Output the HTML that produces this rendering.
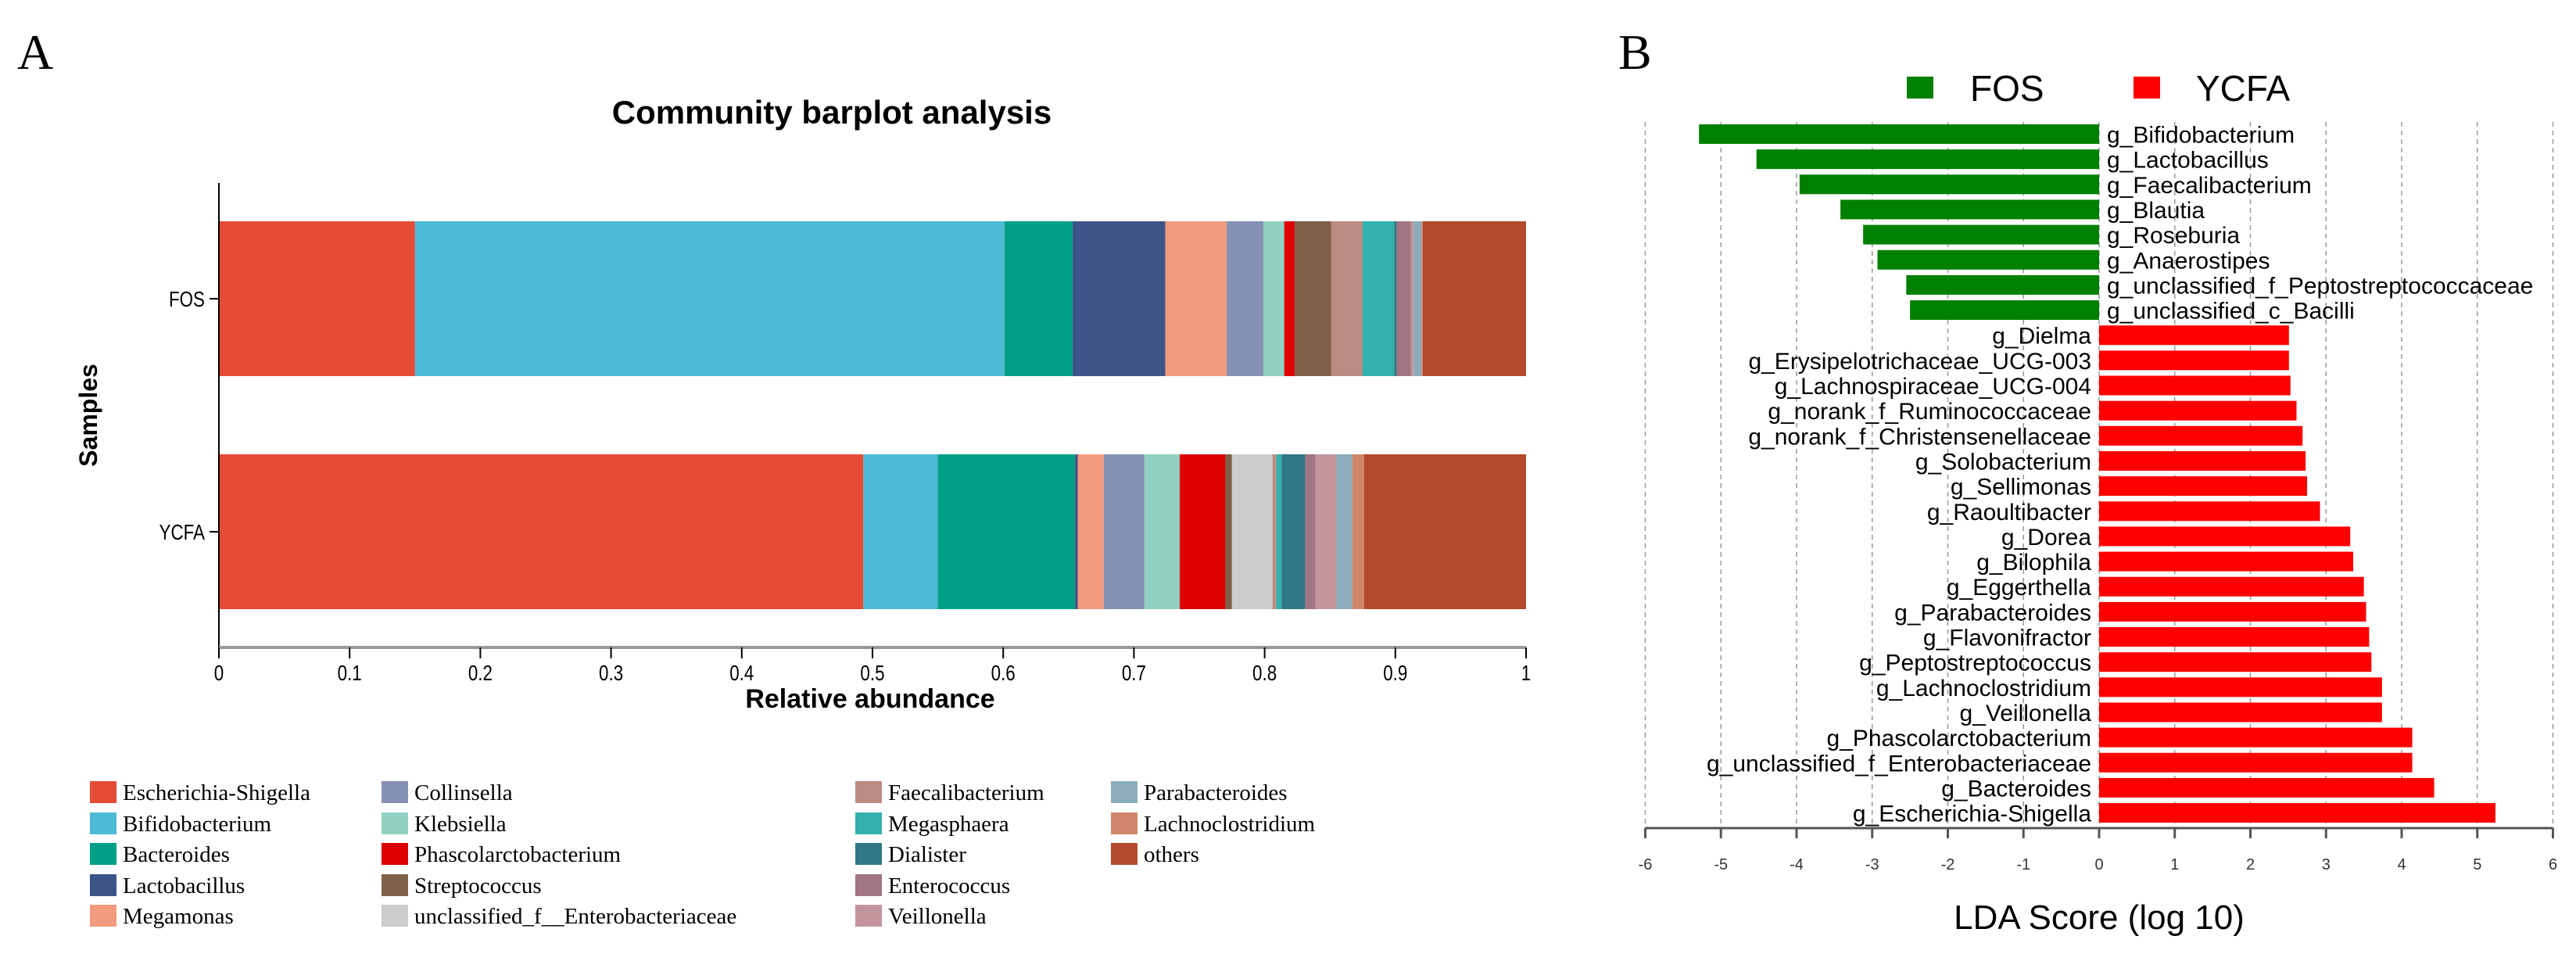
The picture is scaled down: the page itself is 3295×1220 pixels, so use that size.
<!DOCTYPE html>
<html><head><meta charset="utf-8"><style>
html,body{margin:0;padding:0;background:#fff;}
svg{display:block;}
text{font-family:"Liberation Sans",sans-serif;}
.serif{font-family:"Liberation Serif",serif;}
</style></head><body>
<svg id="fig" width="3295" height="1220" viewBox="0 0 3295 1220" xmlns="http://www.w3.org/2000/svg">
<text class="serif" x="22" y="88" font-size="64">A</text>
<text x="1064" y="158" font-size="42" font-weight="bold" text-anchor="middle">Community barplot analysis</text>
<g id="pa"></g>
<g id="pl"></g>
<text class="serif" x="2070" y="88" font-size="64">B</text>
<g id="pb"></g>
</svg>
<script>
const NS="http://www.w3.org/2000/svg";
// ---------- Panel A data ----------
const taxa=["Escherichia-Shigella","Bifidobacterium","Bacteroides","Lactobacillus","Megamonas","Collinsella","Klebsiella","Phascolarctobacterium","Streptococcus","unclassified_f__Enterobacteriaceae","Faecalibacterium","Megasphaera","Dialister","Enterococcus","Veillonella","Parabacteroides","Lachnoclostridium","others"];
const taxaColors=["#E64B35","#4DBBD5","#00A087","#3C5488","#F39B7F","#8491B4","#91D1C2","#DC0000","#7E6148","#CCCCCC","#BC8B83","#32B1AE","#317887","#A17581","#C4959D","#8CADBB","#D0866A","#B24A2B"];
const samples=["FOS","YCFA"];
const fosValues=[0.150,0.451,0.052,0.071,0.047,0.028,0.016,0.008,0.028,0.000,0.024,0.024,0.002,0.011,0.002,0.006,0.001,0.079];
const ycfaValues=[0.493,0.057,0.105,0.002,0.020,0.031,0.027,0.035,0.005,0.031,0.003,0.004,0.018,0.008,0.016,0.012,0.009,0.124];
const xTicksA=[0,0.1,0.2,0.3,0.4,0.5,0.6,0.7,0.8,0.9,1];
// ---------- Panel B data ----------
const ldaGenera=["g_Bifidobacterium","g_Lactobacillus","g_Faecalibacterium","g_Blautia","g_Roseburia","g_Anaerostipes","g_unclassified_f_Peptostreptococcaceae","g_unclassified_c_Bacilli","g_Dielma","g_Erysipelotrichaceae_UCG-003","g_Lachnospiraceae_UCG-004","g_norank_f_Ruminococcaceae","g_norank_f_Christensenellaceae","g_Solobacterium","g_Sellimonas","g_Raoultibacter","g_Dorea","g_Bilophila","g_Eggerthella","g_Parabacteroides","g_Flavonifractor","g_Peptostreptococcus","g_Lachnoclostridium","g_Veillonella","g_Phascolarctobacterium","g_unclassified_f_Enterobacteriaceae","g_Bacteroides","g_Escherichia-Shigella"];
const ldaScores=[-5.29,-4.53,-3.96,-3.42,-3.12,-2.93,-2.55,-2.50,2.51,2.51,2.53,2.61,2.69,2.73,2.75,2.92,3.32,3.36,3.50,3.53,3.57,3.60,3.74,3.74,4.14,4.14,4.43,5.24];
const ldaTicks=[-6,-5,-4,-3,-2,-1,0,1,2,3,4,5,6];

function el(tag,attrs,parent,txt){const e=document.createElementNS(NS,tag);for(const k in attrs)e.setAttribute(k,attrs[k]);if(txt!==undefined)e.textContent=txt;parent.appendChild(e);return e;}

// ---- Panel A ----
const pa=document.getElementById('pa');
const ax0=280,ax1=1952;
const xA=v=>ax0+v*(ax1-ax0);
const rows=[{y:283,h:198,vals:fosValues,ly:382},{y:581,h:198,vals:ycfaValues,ly:680}];
rows.forEach((r,si)=>{
  let acc=0;
  r.vals.forEach((v,i)=>{
    const rc=el('rect',{x:xA(acc),y:r.y,width:Math.max(0,xA(acc+v)-xA(acc)),height:r.h,fill:taxaColors[i]},pa);
    
    
    acc+=v;
  });
  const t=el('text',{x:262,y:r.ly+10,'font-size':28,'text-anchor':'end',transform:`translate(262 0) scale(0.8 1) translate(-262 0)`},pa,samples[si]);
  
  
  el('line',{x1:268,x2:280,y1:r.ly,y2:r.ly,stroke:'#000','stroke-width':2},pa);
});
el('line',{x1:280,x2:280,y1:234,y2:828,stroke:'#000','stroke-width':2},pa);
el('line',{x1:ax0,x2:ax1,y1:828,y2:828,stroke:'#999','stroke-width':4},pa);
xTicksA.forEach(v=>{
  el('line',{x1:xA(v),x2:xA(v),y1:828,y2:842,stroke:'#000','stroke-width':2},pa);
  const t=el('text',{x:xA(v),y:870,'font-size':28,'text-anchor':'middle',transform:`translate(${xA(v)} 0) scale(0.8 1) translate(${-xA(v)} 0)`},pa,String(v));
  
  
});
const xt=el('text',{x:1113,y:905,'font-size':34,'font-weight':'bold','text-anchor':'middle'},pa,'Relative abundance');


const yt=el('text',{x:0,y:0,'font-size':32,'font-weight':'bold','text-anchor':'middle',transform:'translate(124 531) rotate(-90)'},pa,'Samples');



// legend
const pl=document.getElementById('pl');
const colX=[115,488,1094,1421],rowY=[1013,1053,1092,1132,1171];
const colCount=[5,5,5,3];
let idx=0;
colCount.forEach((n,c)=>{for(let r=0;r<n;r++){
  const g=el('g',{},pl);
  
  
  el('rect',{x:colX[c],y:rowY[r]-14,width:34,height:28,fill:taxaColors[idx]},g);
  el('text',{x:colX[c]+42,y:rowY[r]+10,'font-size':29,class:'serif'},g,taxa[idx]);
  idx++;
}});

// ---- Panel B ----
const pb=document.getElementById('pb');
const zx=2685,unit=96.75;
const xB=v=>zx+v*unit;
const top0=159,step=32.15,bh=25;
ldaTicks.forEach(v=>{
  el('line',{x1:xB(v),x2:xB(v),y1:156,y2:1059,stroke:'#999','stroke-width':1.5,'stroke-dasharray':'6,5'},pb);
});
ldaGenera.forEach((g,i)=>{
  const v=ldaScores[i];const y=top0+i*step;
  const rc=el('rect',{x:Math.min(xB(0),xB(v)),y:y,width:Math.abs(xB(v)-xB(0)),height:bh,fill:v<0?'#008000':'#FF0000'},pb);
  
  
  const t=el('text',{x:v<0?xB(0)+10:xB(0)-10,y:y+bh/2+11,'font-size':30,'text-anchor':v<0?'start':'end'},pb,g);
  
  
});
el('line',{x1:xB(-6),x2:xB(6),y1:1059,y2:1059,stroke:'#555','stroke-width':3},pb);
ldaTicks.forEach(v=>{
  el('line',{x1:xB(v),x2:xB(v),y1:1059,y2:1072,stroke:'#555','stroke-width':3},pb);
  const t=el('text',{x:xB(v),y:1112,'font-size':20,'text-anchor':'middle',fill:'#333'},pb,String(v));
  
  
});
const lt=el('text',{x:2685,y:1188,'font-size':44,'text-anchor':'middle'},pb,'LDA Score (log 10)');


const lg1=el('g',{},pb);


el('rect',{x:2439,y:98,width:34,height:28,fill:'#008000'},lg1);
el('text',{x:2520,y:129,'font-size':46},lg1,'FOS');
const lg2=el('g',{},pb);


el('rect',{x:2729,y:98,width:34,height:28,fill:'#FF0000'},lg2);
el('text',{x:2809,y:129,'font-size':46},lg2,'YCFA');
</script>
</body></html>
